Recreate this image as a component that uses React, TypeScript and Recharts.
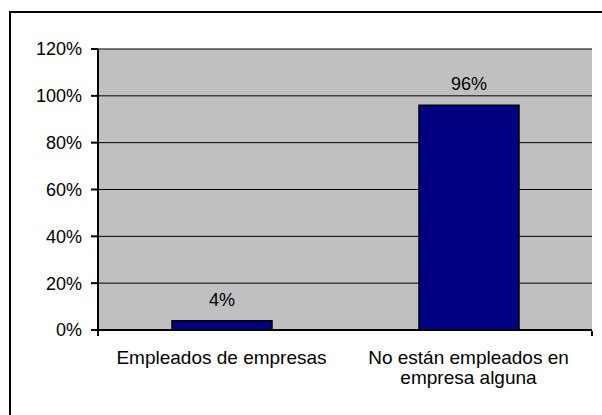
import { BarChart, Bar, XAxis, YAxis, CartesianGrid, LabelList } from 'recharts'

const CATEGORIES = ['Empleados de empresas', 'No están empleados en empresa alguna']
const VALUES = [0.04, 0.96]
const Y_TICKS = [0, 0.2, 0.4, 0.6, 0.8, 1.0, 1.2]
const EDGE_TICKS = [0, 1, 2]

const NAVY = '#000080'
const PLOT_BG = '#C0C0C0'
const FRAME_GRAY = '#808080'
const FONT = { fontSize: 18, fill: '#000' }

const pct = (v: any) => `${Math.round(Number(v) * 100)}%`

// break a label into lines of at most maxChars characters
function wrap(label: string, maxChars: number) {
  const lines: string[] = []
  let cur = ''
  for (const w of label.split(' ')) {
    const next = cur ? cur + ' ' + w : w
    if (next.length > maxChars && cur) {
      lines.push(cur)
      cur = w
    } else cur = next
  }
  if (cur) lines.push(cur)
  return lines
}

function CatTick({ x, y, payload }: any) {
  const lines = wrap(String(payload.value), 22)
  return (
    <text x={x} y={y + 26} textAnchor="middle" fontSize={19} fill="#000">
      {lines.map((l, i) => (
        <tspan key={i} x={x} dy={i === 0 ? 0 : 20}>{l}</tspan>
      ))}
    </text>
  )
}

export default function App() {
  const data = CATEGORIES.map((c, i) => ({ c, v: VALUES[i] }))
  return (
    <div style={{ position: 'absolute', left: 0, top: 0, width: 602, height: 415, overflow: 'hidden', fontFamily: '"Liberation Sans", Arial, sans-serif', background: '#fff' }}>
      <div style={{ position: 'absolute', left: 9, top: 11, width: 620, height: 430, borderTop: '2px solid #000', borderLeft: '2px solid #000' }} />
      <div style={{ position: 'absolute', left: 0, top: 0 }}>
        <BarChart width={602} height={415} data={data} margin={{ top: 49, right: 10, left: 0, bottom: 25 }}>
          <CartesianGrid vertical={false} stroke="#000" fill={PLOT_BG} fillOpacity={1} />
          <XAxis dataKey="c" height={1} interval={0} tick={<CatTick />} tickLine={false}
            axisLine={{ stroke: '#000', strokeWidth: 2 }} />
          <XAxis xAxisId="edges" type="number" domain={[0, 2]} ticks={EDGE_TICKS} height={59} tickFormatter={() => ''}
            axisLine={false} tickLine={{ stroke: '#000', strokeWidth: 2 }} tickSize={5} />
          <XAxis xAxisId="top" orientation="top" height={0} tick={false} tickLine={false}
            axisLine={{ stroke: FRAME_GRAY, strokeWidth: 2 }} />
          <YAxis domain={[0, 1.2]} ticks={Y_TICKS} tickFormatter={pct} width={98} tick={FONT}
            tickSize={7} tickMargin={9} axisLine={{ stroke: '#000', strokeWidth: 2 }} tickLine={{ stroke: '#000', strokeWidth: 2 }} />
          <YAxis yAxisId="right" orientation="right" width={0} tick={false} tickLine={false}
            axisLine={{ stroke: FRAME_GRAY, strokeWidth: 2 }} />
          <Bar dataKey="v" fill={NAVY} stroke="#000" strokeWidth={1.5} barSize={100} isAnimationActive={false}>
            <LabelList dataKey="v" position="top" offset={15} formatter={pct} fontSize={18} fill="#000" />
          </Bar>
        </BarChart>
      </div>
    </div>
  )
}
